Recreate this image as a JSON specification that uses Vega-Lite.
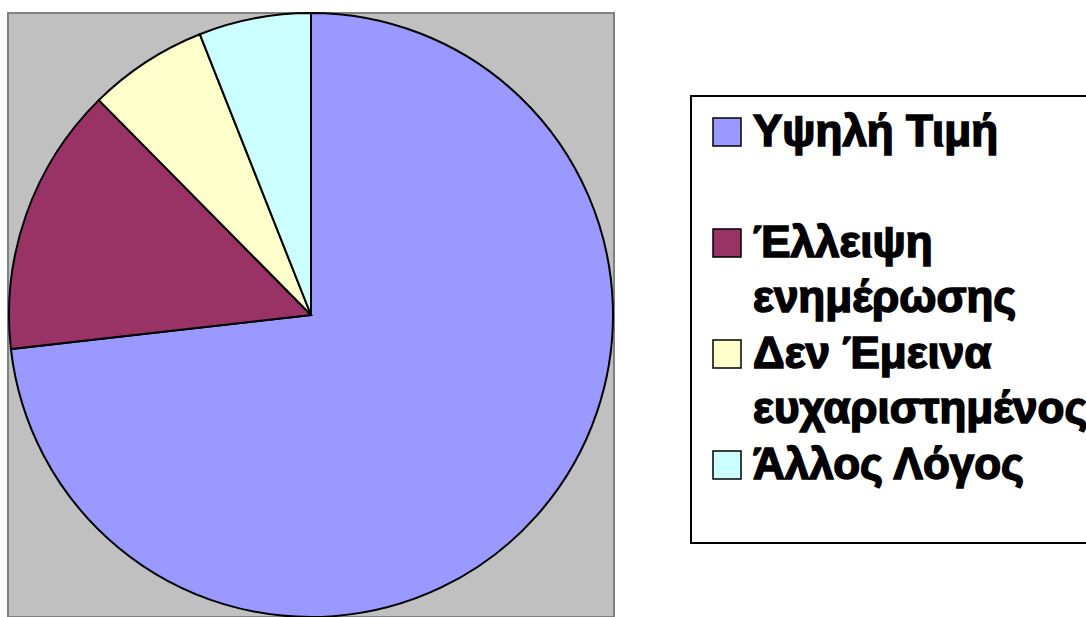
{
  "$schema": "https://vega.github.io/schema/vega-lite/v6.json",
  "width": 606,
  "height": 604,
  "autosize": {"type": "none"},
  "padding": {"left": 8, "top": 13, "right": 472, "bottom": 0},
  "background": "white",
  "view": {"fill": "#C0C0C0", "stroke": "#808080", "strokeWidth": 2},
  "config": {"legend": {"strokeWidth": 2, "labelFontWeight": "bold"}},
  "data": {
    "values": [
      {"reason": "Υψηλή Τιμή", "percent": 73.2, "idx": 1},
      {"reason": "Έλλειψη ενημέρωσης", "percent": 14.4, "idx": 2},
      {"reason": "Δεν Έμεινα ευχαριστημένος", "percent": 6.4, "idx": 3},
      {"reason": "Άλλος Λόγος", "percent": 6.0, "idx": 4}
    ]
  },
  "mark": {"type": "arc", "stroke": "black", "strokeWidth": 2},
  "encoding": {
    "theta": {"field": "percent", "type": "quantitative", "stack": true},
    "order": {"field": "idx", "type": "quantitative"},
    "color": {
      "field": "reason",
      "type": "nominal",
      "sort": null,
      "scale": {
        "domain": ["Υψηλή Τιμή", "Έλλειψη ενημέρωσης", "Δεν Έμεινα ευχαριστημένος", "Άλλος Λόγος"],
        "range": ["#9999FF", "#993366", "#FFFFCC", "#CCFFFF"]
      },
      "legend": {
        "title": null,
        "orient": "none",
        "legendX": 683,
        "legendY": 83,
        "symbolType": "square",
        "symbolSize": 784,
        "symbolStrokeColor": "black",
        "symbolStrokeWidth": 1.5,
        "symbolOpacity": 1,
        "labelFont": "Liberation Sans",
        "labelFontSize": 44,
        "labelFontWeight": "bold",
        "labelColor": "black",
        "labelLimit": 1000,
        "labelOffset": 4,
        "labelBaseline": "alphabetic",
        "labelExpr": "datum.label == 'Έλλειψη ενημέρωσης' ? ['Έλλειψη', 'ενημέρωσης'] : datum.label == 'Δεν Έμεινα ευχαριστημένος' ? ['Δεν Έμεινα', 'ευχαριστημένος'] : [datum.label, '']",
        "rowPadding": 11,
        "padding": 14,
        "strokeColor": "black",
        "fillColor": "white",
        "encode": {
          "labels": {"update": {"dy": {"value": 14}, "lineHeight": {"signal": "datum.value == 'Άλλος Λόγος' ? 41 : 55"}, "fontWeight": {"value": "bold"}, "stroke": {"value": "black"}, "strokeWidth": {"value": 1.6}}}
        }
      }
    }
  }
}
